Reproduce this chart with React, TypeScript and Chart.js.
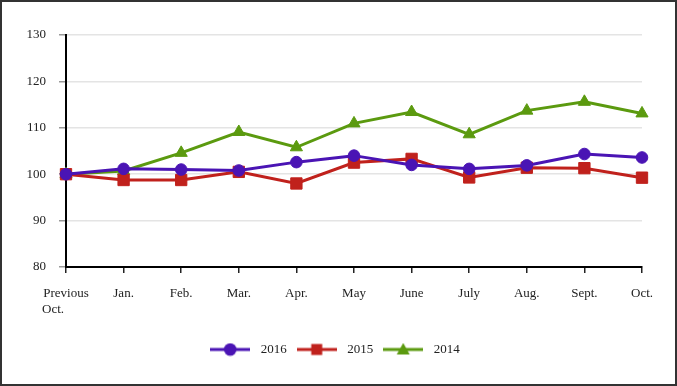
import React, { useEffect, useRef } from 'react';
import { Chart, registerables } from 'chart.js';

Chart.register(...registerables);

const categories: (string | string[])[] = [['Previous', 'Oct.        '], 'Jan.', 'Feb.', 'Mar.', 'Apr.', 'May', 'June', 'July', 'Aug.', 'Sept.', 'Oct.'];
const seriesNames = ['2016', '2015', '2014'];
const values2016 = [100, 101.15, 101.0, 100.8, 102.6, 104.0, 102.0, 101.15, 101.9, 104.35, 103.6];
const values2015 = [100, 98.75, 98.75, 100.5, 98.0, 102.5, 103.3, 99.3, 101.4, 101.3, 99.25];
const values2014 = [100, 100.7, 104.6, 109.1, 105.8, 110.95, 113.4, 108.6, 113.7, 115.6, 113.1];
const yMin = 80;
const yMax = 130;
const yStep = 10;

const colors = ['#4A14B4', '#C0211C', '#5B9A0F'];
const styles = ['circle', 'rect', 'triangle'];
const FONT = '"Liberation Serif", "Times New Roman", serif';

function makeIcon(color: string, style: string): HTMLCanvasElement {
  const c = document.createElement('canvas');
  c.width = 40;
  c.height = 14;
  const ctx = c.getContext('2d')!;
  ctx.strokeStyle = color;
  ctx.fillStyle = color;
  ctx.lineWidth = 3;
  ctx.beginPath();
  ctx.moveTo(0, 7);
  ctx.lineTo(40, 7);
  ctx.stroke();
  ctx.beginPath();
  if (style === 'circle') {
    ctx.arc(20, 7, 6.3, 0, Math.PI * 2);
  } else if (style === 'rect') {
    ctx.rect(14.5, 1.5, 11, 11);
  } else {
    ctx.moveTo(20, 0.5);
    ctx.lineTo(26.5, 12);
    ctx.lineTo(13.5, 12);
    ctx.closePath();
  }
  ctx.fill();
  return c;
}

export default function App() {
  const ref = useRef<HTMLCanvasElement>(null);
  useEffect(() => {
    if (!ref.current) return;
    const icons = colors.map((c, i) => makeIcon(c, styles[i]));
    const data = [values2016, values2015, values2014];
    const chart = new Chart(ref.current, {
      type: 'line',
      data: {
        labels: categories,
        datasets: seriesNames.map((name, i) => ({
          label: name,
          data: data[i],
          borderColor: colors[i],
          backgroundColor: colors[i],
          borderWidth: 3,
          pointStyle: styles[i] as any,
          pointRadius: i === 0 ? 5.8 : i === 1 ? 8 : 7,
          pointBorderWidth: 1,
          pointBackgroundColor: colors[i],
          pointBorderColor: colors[i],
          tension: 0,
          fill: false,
        })),
      },
      options: {
        animation: false,
        responsive: false,
        maintainAspectRatio: false,
        layout: { padding: { left: 24, right: 35, top: 35, bottom: 20 } },
        plugins: {
          tooltip: { enabled: false },
          legend: {
            position: 'bottom',
            labels: {
              usePointStyle: true,
              pointStyleWidth: 48,
              padding: 6,
              color: '#222',
              font: { family: FONT, size: 13 },
              generateLabels: (ch: any) =>
                ch.data.datasets.map((ds: any, i: number) => ({
                  text: ds.label,
                  pointStyle: icons[i],
                  fillStyle: colors[i],
                  strokeStyle: colors[i],
                  lineWidth: 0,
                  hidden: false,
                  datasetIndex: i,
                  fontColor: '#222',
                })),
            },
          },
        },
        scales: {
          x: {
            type: 'category',
            offset: false,
            afterFit: (s: any) => { s.height = 70; },
            grid: { drawOnChartArea: false, color: '#222', tickLength: 6, lineWidth: 1.5 },
            border: { display: true, color: '#000', width: 2 },
            ticks: { color: '#222', padding: 13, maxRotation: 0, autoSkip: false, font: { family: FONT, size: 13 } },
          },
          y: {
            min: yMin,
            max: yMax,
            afterFit: (s: any) => { s.width = 42; },
            grid: { color: '#e4e4e4', tickColor: '#999', tickLength: 7, lineWidth: 1.5 },
            border: { display: true, color: '#000', width: 2 },
            ticks: { stepSize: yStep, color: '#222', padding: 13, font: { family: FONT, size: 13 } },
          },
        },
      },
    } as any);
    return () => chart.destroy();
  }, []);
  return (
    <div style={{ position: 'fixed', left: 0, top: 0, width: 677, height: 386, background: '#fff' }}>
      <canvas ref={ref} width={677} height={386} style={{ position: 'absolute', left: 0, top: 0, width: 677, height: 386 }} />
      <div style={{ position: 'absolute', left: 0, top: 0, width: 677, height: 386, boxSizing: 'border-box', border: '2px solid #333', pointerEvents: 'none' }} />
    </div>
  );
}
